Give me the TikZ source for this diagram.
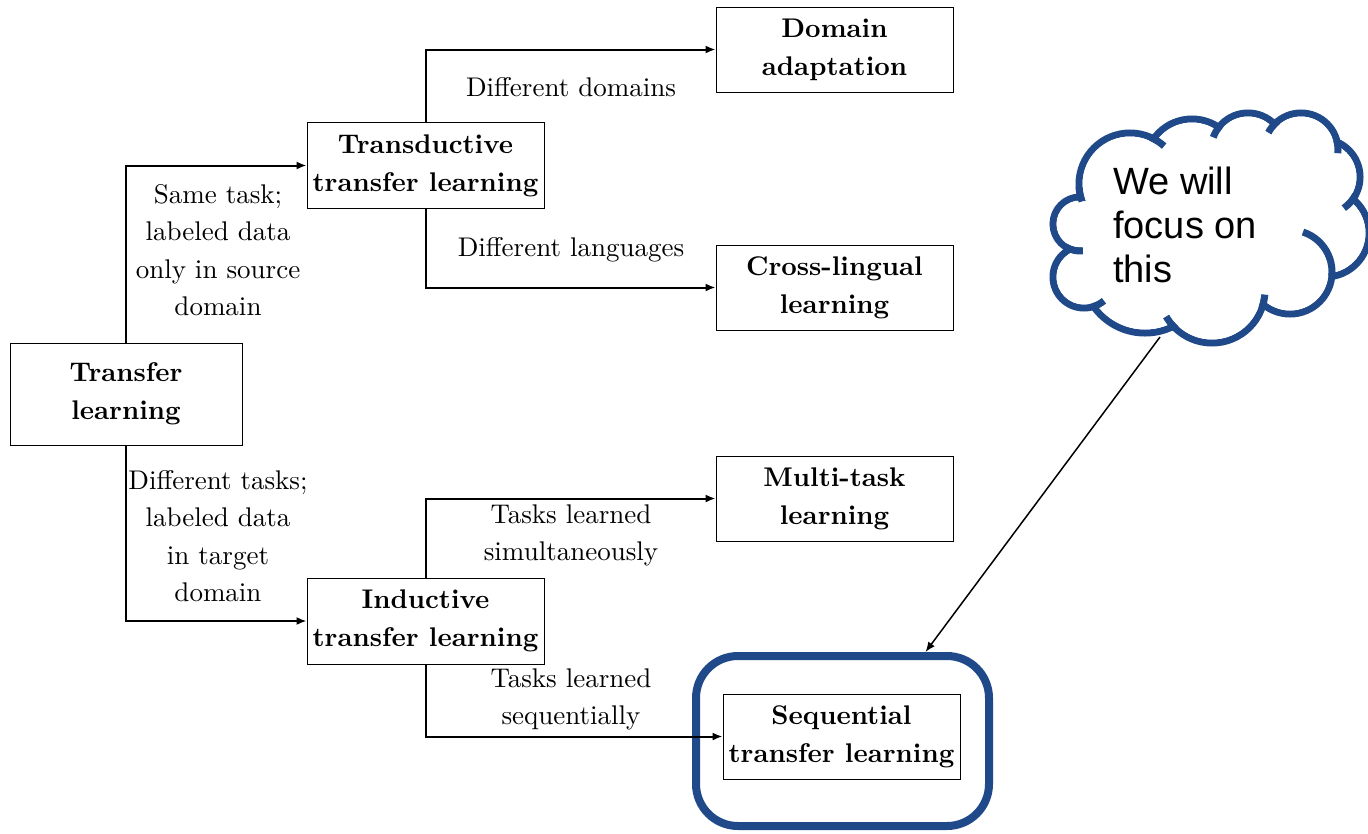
\documentclass[tikz,border=0pt]{standalone}
\usepackage{fontspec}
\newfontfamily\lmten{lmroman10-regular}[Extension=.otf, BoldFont=lmroman10-bold]
\newfontfamily\cloudfont{Liberation Sans}
\usetikzlibrary{arrows.meta,calc}
\definecolor{focusblue}{RGB}{31,73,137}
\begin{document}
\begin{tikzpicture}[x=1pt,y=-1pt,
  box/.style={draw, line width=0.8pt, minimum width=237pt, minimum height=86pt, align=center,
    font=\lmten\fontsize{27}{38}\selectfont\bfseries, inner sep=0pt},
  lab/.style={align=center, font=\lmten\fontsize{27}{37.5}\selectfont, inner sep=0pt},
  conn/.style={line width=2pt, -{Latex[length=10pt,width=8pt]}},
  puff/.style={draw=focusblue, line width=7pt},
  stub/.style={draw=focusblue, line width=7pt}]
\useasboundingbox (0,0) rectangle (1368,833);
\fill[white] (0,0) rectangle (1368,833);
% boxes
\node[box, minimum width=232pt, minimum height=102pt] (tl) at (126,394) {Transfer\\learning};
\node[box] (td) at (425.5,165.5) {Transductive\\transfer learning};
\node[box] (in) at (425.5,621) {Inductive\\transfer learning};
\node[box, minimum height=85pt] (da) at (834.5,49.5) {Domain\\adaptation};
\node[box, minimum height=85pt] (cl) at (834.5,287.5) {Cross-lingual\\learning};
\node[box, minimum height=85pt] (mt) at (834.5,498.5) {Multi-task\\learning};
\node[box, minimum height=85pt] (sq) at (841.5,736.5) {Sequential\\transfer learning};
\node[draw=focusblue, line width=8pt, rounded corners=42pt, minimum width=293pt, minimum height=170pt] (focus) at (842.5,741) {};
% connectors
\draw[conn] (tl.north) |- (td.west);
\draw[conn] (tl.south) |- (in.west);
\draw[conn] (td.north) |- (da.west);
\draw[conn] (td.south) |- (cl.west);
\draw[conn] (in.north) |- (mt.west);
\draw[conn] (in.south) |- (sq.west);
% labels
\node[lab] (l1) at (218,250) {Same task;\\labeled data\\only in source\\domain};
\node[lab] (l2) at (218,536) {Different tasks;\\labeled data\\in target\\domain};
\node[lab] (l3) at (571,87) {Different domains};
\node[lab] (l4) at (571,250) {Different languages};
\node[lab] (l5) at (571,535.5) {Tasks learned\\simultaneously};
\node[lab] (l6) at (571,699.5) {Tasks learned\\sequentially};
% cloud
\coordinate (cstart) at (1160,337);
\draw[line width=1.5pt, -{Latex[length=10pt,width=8pt]}] (cstart) -- ($(focus.north)+(83,0)$);
\def\puffs{1130/184/51, 1192/166/47, 1248/150/37, 1301/150/37, 1322/177/38,
    1325/233/44, 1290/272/42, 1212/290/53, 1145/270/63, 1084/277/31, 1080/224/27}
\foreach \cx/\cy/\r in \puffs
  \draw[puff] (\cx,\cy) circle[radius=\r];
\foreach \cx/\cy/\r in \puffs
  \fill[white] (\cx,\cy) circle[radius=\r-3.5];
\fill[white] (1130,184) -- (1192,166) -- (1248,150) -- (1301,150) -- (1322,177) -- (1325,233)
  -- (1290,272) -- (1212,290) -- (1145,270) -- (1084,277) -- (1080,224) -- cycle;
% inner stubs of the cloud outline
\foreach \cx/\cy/\r/\a/\b in {1130/184/51/-66/-48, 1248/150/37/-140/-160, 1301/150/37/-130/-152,
    1301/150/37/-15/5, 1322/177/38/28/55, 1290/272/42/-72/5, 1212/290/53/20/5,
    1212/290/53/133/150, 1084/277/31/73/50, 1080/224/27/122/84, 1130/184/51/176/160}
  \draw[stub] ($(\cx,\cy)+(\a:\r)$) arc[start angle=\a, end angle=\b, radius=\r];
\node[font=\cloudfont\fontsize{38}{44}\selectfont, align=left, anchor=north west, inner sep=0pt] (ct) at (1113,167) {We will\\focus on\\this};
\end{tikzpicture}
\end{document}
